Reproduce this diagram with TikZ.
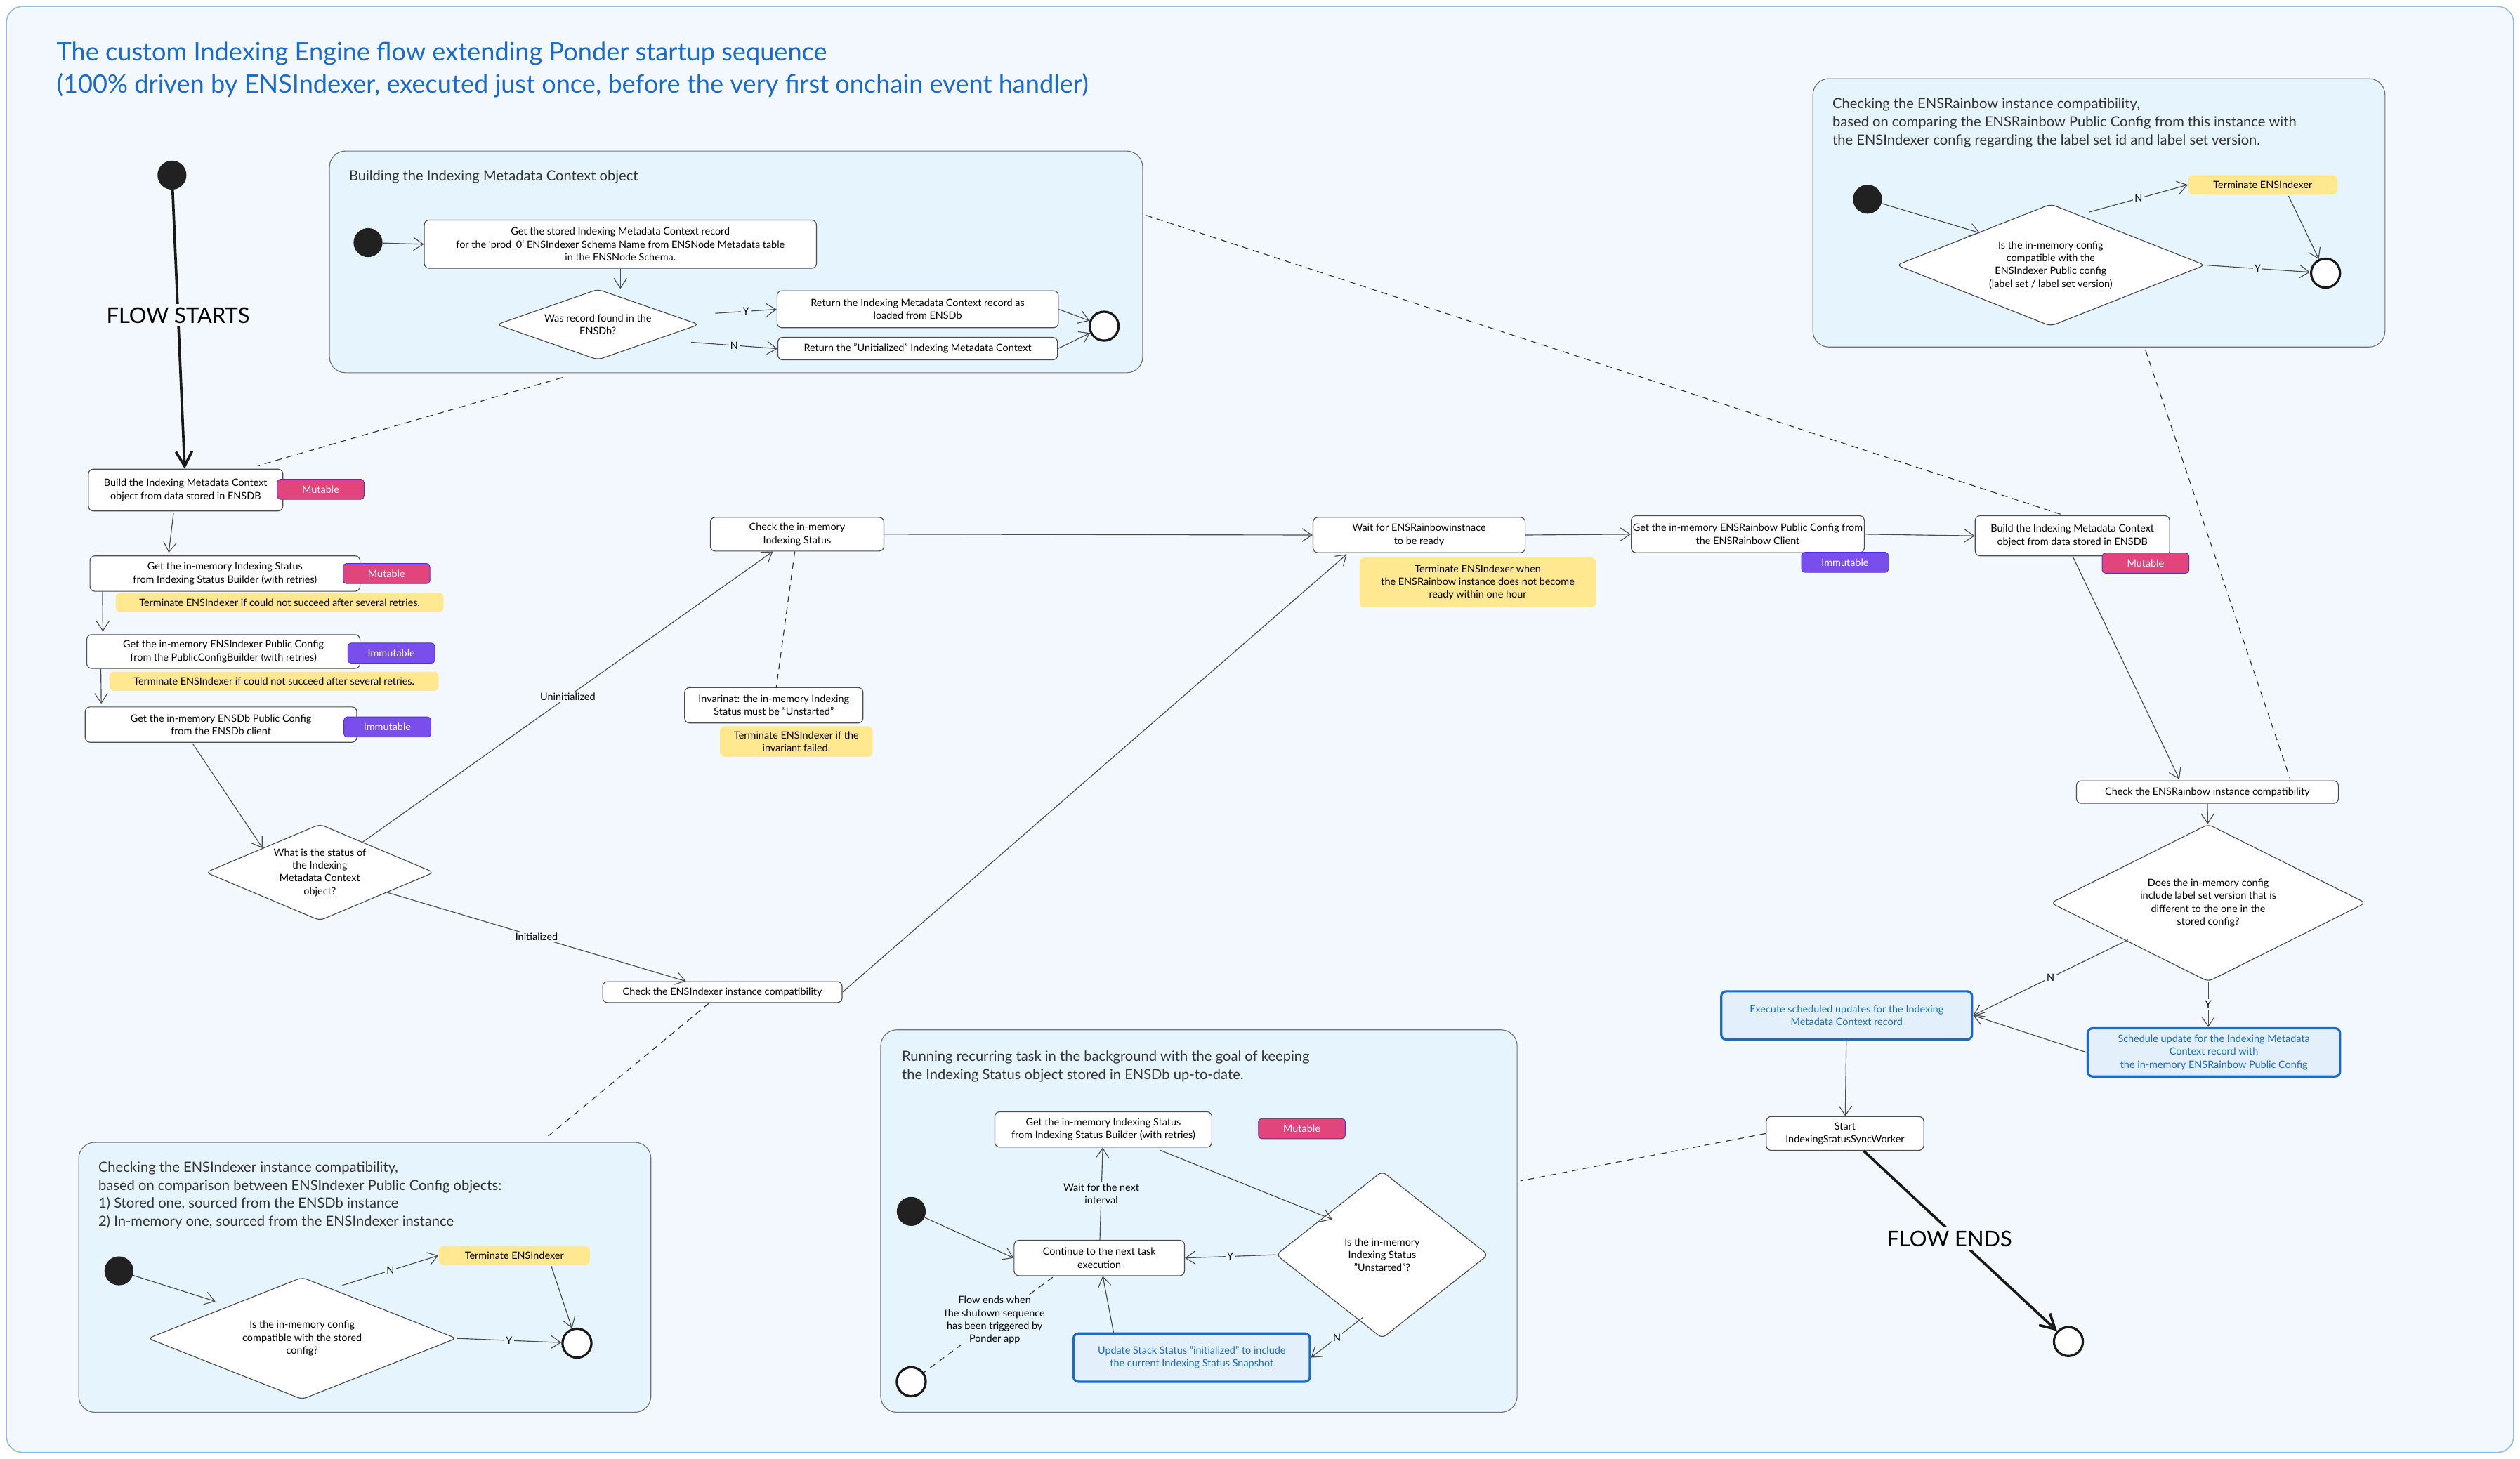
\documentclass[tikz,border=0pt]{standalone}
\usepackage{fontspec}
\setmainfont{Lato}
\usetikzlibrary{arrows.meta,shapes.geometric}
\definecolor{bgC}{HTML}{F2F8FE}
\definecolor{frameC}{HTML}{8FBFE8}
\definecolor{groupF}{HTML}{E6F4FD}
\definecolor{blueC}{HTML}{1B6AC9}
\definecolor{blueF}{HTML}{E3F0FB}
\definecolor{mutC}{HTML}{E2457C}
\definecolor{immC}{HTML}{7A4EEA}
\definecolor{noteY}{HTML}{FFE88F}
\newcommand\myfs{\fontsize{6.3}{8}\selectfont}
\newcommand\mygfs{\fontsize{8.8}{11.2}\selectfont}
\begin{document}
\begin{tikzpicture}[x=1pt,y=-1pt,
  box/.style={draw=black!70, fill=white, rounded corners=3pt, align=center, font=\myfs, inner sep=1pt, line width=0.5pt},
  tag/.style={fill=#1, draw=immC!60!blue, text=white, rounded corners=2pt, font=\myfs, minimum width=54, minimum height=12.5, inner sep=0},
  note/.style={fill=noteY, rounded corners=3pt, font=\myfs, align=center, inner sep=1.5pt},
  bluebox/.style={box, draw=blueC, line width=1.4pt, fill=blueF, text=blueC},
  dia/.style={diamond, draw=black!70, fill=white, rounded corners=3pt, align=center, font=\myfs, inner sep=0, line width=0.5pt},
  start/.style={circle, fill=black!87, minimum size=18, inner sep=0},
  endc/.style={circle, draw=black!90, line width=1.4pt, fill=white, minimum size=18, inner sep=0},
  group/.style={draw=black!55, fill=groupF, rounded corners=10pt, line width=0.5pt},
  gtitle/.style={font=\mygfs, align=left, anchor=north west, text=black!80, inner sep=0},
  arr/.style={-{Straight Barb[length=6pt,width=8pt]}, draw=black!70, line width=0.5pt},
  thick arr/.style={-{Straight Barb[length=9pt,width=10pt]}, draw=black!90, line width=1.6pt},
  dashln/.style={draw=black!80, dash pattern=on 4pt off 3pt, line width=0.5pt},
  lab/.style={fill=bgC, font=\myfs, inner sep=1pt, align=center},
  labg/.style={fill=groupF, font=\myfs, inner sep=1pt, align=center},
  big/.style={font=\fontsize{13.5}{15}\selectfont, fill=bgC, inner sep=2pt}
]
\useasboundingbox (0,0) rectangle (1568,908);
\fill[white] (0,0) rectangle (1568,908);
\draw[fill=bgC, draw=frameC, rounded corners=10pt, line width=0.7pt] (4,4) rectangle (1564,904);

\node[anchor=north west, align=left, text=blueC, font=\fontsize{15.8}{20}\selectfont, inner sep=0] (title) at (35,26)
 {The custom Indexing Engine flow extending Ponder startup sequence\\(100\% driven by ENSIndexer, executed just once, before the very first onchain event handler)};

% groups
\node[group, minimum width=506, minimum height=138] (g1) at (458,163) {};
\node[gtitle] (g1t) at (217,106) {Building the Indexing Metadata Context object};
\node[group, minimum width=356, minimum height=167] (g2) at (1306,132.5) {};
\node[gtitle] (g2t) at (1140,61) {Checking the ENSRainbow instance compatibility,\\based on comparing the ENSRainbow Public Config from this instance with\\the ENSIndexer config regarding the label set id and label set version.};
\node[group, minimum width=356, minimum height=168] (g3) at (227,795) {};
\node[gtitle] (g3t) at (61,723) {Checking the ENSIndexer instance compatibility,\\based on comparison between ENSIndexer Public Config objects:\\1) Stored one, sourced from the ENSDb instance\\2) In-memory one, sourced from the ENSIndexer instance};
\node[group, minimum width=396, minimum height=238] (g4) at (746,760) {};
\node[gtitle] (g4t) at (561,654) {Running recurring task in the background with the goal of keeping\\the Indexing Status object stored in ENSDb up-to-date.};

% main flow left
\node[start] (s0) at (107,109) {};
\node[box, minimum width=121, minimum height=26] (b1) at (115.5,305) {Build the Indexing Metadata Context\\object from data stored in ENSDB};
\node[tag=mutC] (t1) at (199.5,304.5) {Mutable};
\node[box, minimum width=168, minimum height=22] (b2) at (140,357) {Get the in-memory Indexing Status\\from Indexing Status Builder (with retries)};
\node[tag=mutC] (t2) at (240.5,357) {Mutable};
\node[note, minimum width=204, minimum height=12] (n2) at (174,375) {Terminate ENSIndexer if could not succeed after several retries.};
\node[box, minimum width=170, minimum height=21] (b3) at (139,405.5) {Get the in-memory ENSIndexer Public Config\\from the PublicConfigBuilder (with retries)};
\node[tag=immC] (t3) at (243.5,406.5) {Immutable};
\node[note, minimum width=205, minimum height=12] (n3) at (170.5,424) {Terminate ENSIndexer if could not succeed after several retries.};
\node[box, minimum width=169, minimum height=22] (b4) at (137.5,451) {Get the in-memory ENSDb Public Config\\from the ENSDb client};
\node[tag=immC] (t4) at (241,452.5) {Immutable};
\node[dia, aspect=2.35, minimum width=142, minimum height=60] (d1) at (199,543) {What is the status of\\the Indexing\\Metadata Context\\object?};
\node[box, minimum width=108, minimum height=21] (c1) at (496,332.5) {Check the in-memory\\Indexing Status};
\node[box, minimum width=149, minimum height=13] (c2) at (449.5,617.5) {Check the ENSIndexer instance compatibility};
\node[box, minimum width=111, minimum height=22] (inv) at (481.5,439) {Invarinat: the in-memory Indexing\\Status must be "Unstarted"};
\node[note, minimum width=95, minimum height=19] (ninv) at (495.5,461.5) {Terminate ENSIndexer if the\\invariant failed.};

\draw[thick arr] (s0) -- node[big, pos=0.45] {FLOW STARTS} (b1);
\draw[arr] (108,319) -- (105,344);
\draw[arr] (b2.south west)++(8,0) -- (64,393);
\draw[arr] (b3.south west)++(9,0) -- (63,438);
\draw[arr] (120,463) -- (d1.north west);
\draw[arr] (d1) -- node[lab] {Uninitialized} (c1);
\draw[arr] (d1) -- node[lab] {Initialized} (c2);
\draw[dashln] (c1) -- (inv);

% right part
\node[box, minimum width=132, minimum height=22] (w1) at (883,333) {Wait for ENSRainbowinstnace\\to be ready};
\node[note, minimum width=147, minimum height=31] (nw1) at (919.5,362.5) {Terminate ENSIndexer when\\the ENSRainbow instance does not become\\ready within one hour};
\node[box, minimum width=135, minimum height=23] (gr) at (1087.5,332.5) {Get the in-memory ENSRainbow Public Config from\\the ENSRainbow Client};
\node[tag=immC] (t5) at (1148,350) {Immutable};
\node[box, minimum width=121, minimum height=25] (b5) at (1289.5,333.5) {Build the Indexing Metadata Context\\object from data stored in ENSDB};
\node[tag=mutC] (t6) at (1335,350.5) {Mutable};
\node[box, minimum width=163, minimum height=14] (r1) at (1373.5,493) {Check the ENSRainbow instance compatibility};
\node[dia, aspect=2, minimum width=196, minimum height=98] (d2) at (1374,562) {Does the in-memory config\\include label set version that is\\different to the one in the\\stored config?};
\node[bluebox, minimum width=156, minimum height=30] (e1) at (1149,632) {Execute scheduled updates for the Indexing\\Metadata Context record};
\node[bluebox, minimum width=157, minimum height=30] (sc) at (1377.5,655) {Schedule update for the Indexing Metadata\\Context record with\\the in-memory ENSRainbow Public Config};
\node[box, minimum width=98, minimum height=21] (st) at (1148,705.5) {Start\\IndexingStatusSyncWorker};
\node[endc] (eF) at (1287,835) {};

\draw[arr] (c1.east) -- (w1.west);
\draw[arr] (c2.east) -- (838,345);
\draw[arr] (w1.east) -- (gr.west);
\draw[arr] (gr.east) -- (b5.west);
\draw[arr] (1290,347) -- (1356,485);
\draw[arr] (r1) -- (d2);
\draw[arr] (1324,585) -- node[lab] {N} (e1.east);
\draw[arr] (d2.south) -- node[lab] {Y} (sc.north -| d2.south);
\draw[arr] (sc.west) -- (e1.east);
\draw[arr] (e1) -- (st);
\draw[thick arr] (st) -- (eF);
\node[big] (fe) at (1213,771) {FLOW ENDS};

% group 1 content
\node[start] (s1) at (229,151) {};
\node[box, minimum width=244, minimum height=30] (k1) at (386,152) {Get the stored Indexing Metadata Context record\\for the `prod\_0` ENSIndexer Schema Name from ENSNode Metadata table\\in the ENSNode Schema.};
\node[dia, aspect=2.9, minimum width=126, minimum height=44] (dk) at (372,202) {Was record found in the\\ENSDb?};
\node[box, minimum width=175, minimum height=23] (k2) at (571,192.5) {Return the Indexing Metadata Context record as\\loaded from ENSDb};
\node[box, minimum width=174, minimum height=14] (k3) at (571,217) {Return the "Unitialized" Indexing Metadata Context};
\node[endc] (e1k) at (687,203) {};
\draw[arr] (s1) -- (k1.west);
\draw[arr] (k1.south -| 386,0) -- (dk.north -| 386,0);
\draw[arr] (445,195) -- node[labg] {Y} (k2.west);
\draw[arr] (430,213) -- node[labg] {N} (k3.west);
\draw[arr] (k2.east) -- (e1k);
\draw[arr] (k3.east) -- (e1k);

% group 2 content
\node[start] (s2) at (1162,124) {};
\node[dia, aspect=2.5, minimum width=192, minimum height=76] (d3) at (1276,165) {Is the in-memory config\\compatible with the\\ENSIndexer Public config\\(label set / label set version)};
\node[note, minimum width=93, minimum height=12] (n5) at (1408,115) {Terminate ENSIndexer};
\node[endc] (e2) at (1447,170) {};
\draw[arr] (s2) -- (1232,145);
\draw[arr] (1300,132) -- node[labg] {N} (n5.west);
\draw[arr] (1424,122) -- (e2);
\draw[arr] (d3.east) -- node[labg] {Y} (e2);

% group 3 content
\node[start] (s3) at (74,791) {};
\node[dia, aspect=2.5, minimum width=192, minimum height=76] (d4) at (188,833) {Is the in-memory config\\compatible with the stored\\config?};
\node[note, minimum width=94, minimum height=12] (n6) at (320,781.5) {Terminate ENSIndexer};
\node[endc] (e3) at (359,836) {};
\draw[arr] (s3) -- (134,810);
\draw[arr] (213,800) -- node[labg] {N} (n6.west);
\draw[arr] (343,788) -- (e3);
\draw[arr] (d4.east) -- node[labg] {Y} (e3);

% group 4 content
\node[box, minimum width=135, minimum height=22] (q1) at (686.5,703) {Get the in-memory Indexing Status\\from Indexing Status Builder (with retries)};
\node[tag=mutC] (t7) at (810,702.5) {Mutable};
\node[start] (s4) at (567,754) {};
\node[box, minimum width=106, minimum height=22] (q2) at (684,783) {Continue to the next task\\execution};
\node[dia, aspect=1.27, minimum width=132, minimum height=104] (dq) at (860,781) {Is the in-memory\\Indexing Status\\"Unstarted"?};
\node[bluebox, minimum width=147, minimum height=30] (u1) at (741.5,845) {Update Stack Status "initialized" to include\\the current Indexing Status Snapshot};
\node[endc] (e4) at (567,860) {};
\draw[arr] (s4) -- (q2.west);
\draw[arr] (q2) -- node[labg] {Wait for the next\\interval} (q1);
\draw[arr] (722,716) -- (829,759);
\draw[arr] (dq.west) -- node[labg] {Y} (q2.east);
\draw[arr] (848,820) -- node[labg] {N} (u1.east);
\draw[arr] (693,830) -- (q2);
\draw[dashln] (655,795) -- node[labg, pos=0.45] {Flow ends when\\the shutown sequence\\has been triggered by\\Ponder app} (e4);

% dashed associations
\coordinate (g1a) at (350,235);
\coordinate (g1b) at (713,134);
\coordinate (g2a) at (1335,218);
\coordinate (g3a) at (340,708);
\coordinate (g4a) at (946,735);
\draw[dashln] (g1a) -- (160,290);
\draw[dashln] (g1b) -- (1282,320);
\draw[dashln] (g2a) -- (1425,485);
\draw[dashln] (c2) -- (g3a);
\draw[dashln] (st.west) -- (g4a);
\end{tikzpicture}
\end{document}
